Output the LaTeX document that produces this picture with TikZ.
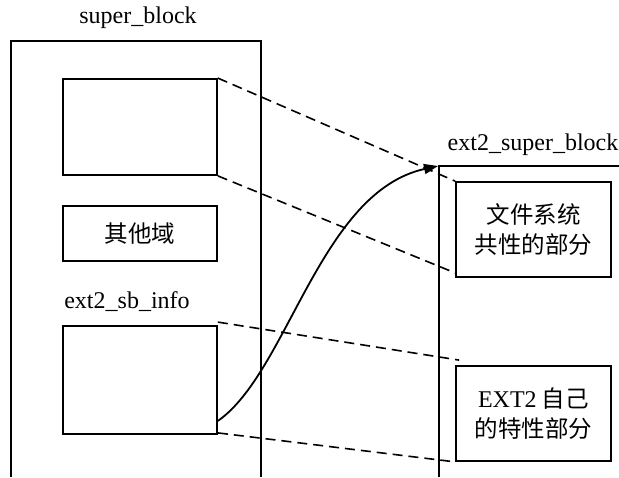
\documentclass[tikz,border=0pt]{standalone}
\usepackage{fontspec}
\setmainfont{Liberation Serif}
\newfontfamily\cjk{Noto Sans CJK SC}
\usetikzlibrary{arrows.meta,calc}
\begin{document}
\begin{tikzpicture}[x=1pt,y=-1pt,
  line width=1.8pt,
  lbl/.style={font=\fontsize{24}{28}\selectfont, inner sep=0pt},
  box/.style={draw, inner sep=0pt, font=\fontsize{23.5}{30}\selectfont\cjk, align=center},
  dsh/.style={dashed, dash pattern=on 10pt off 6pt, line width=1.6pt}]
\useasboundingbox (0,0) rectangle (619,477);
% outer containers
\draw (11,477) -- (11,41) -- (261,41) -- (261,477);
\draw (619,166) -- (439,166) -- (439,477);
% labels
\node[lbl] (lsb) at (138,18) {super\_block};
\node[lbl] (les) at (533,145) {ext2\_super\_block};
\node[lbl] (lei) at (127,302) {ext2\_sb\_info};
% boxes
\node[box, minimum width=154pt, minimum height=96pt] (b1) at (140,127) {};
\node[box, minimum width=154pt, minimum height=55pt] (b2) at (140,233.5) {其他域};
\node[box, minimum width=154pt, minimum height=108pt] (b3) at (140,380) {};
\node[box, minimum width=155pt, minimum height=95pt] (fs) at (533.5,229.5) {文件系统\\共性的部分};
\node[box, minimum width=155pt, minimum height=95pt] (ex) at (533.5,413.5) {{\fontsize{24}{30}\selectfont\rmfamily EXT2} 自己\\的特性部分};
% dashed mappings
\coordinate (fsl) at ($(fs.south west)+(0,-5)$);
\coordinate (exl) at ($(ex.north west)+(4,-5)$);
\draw[dsh] (b1.north east) -- (fs.north west);
\draw[dsh] (b1.south east) -- (fsl);
\draw[dsh] ($(b3.north east)+(0,-3)$) -- (exl);
\draw[dsh] ($(b3.south east)+(0,-2)$) -- (ex.south west);
% pointer
\coordinate (bs) at ($(b3.south east)+(0,-14)$);
\coordinate (tip) at (438,166);
\draw[-{Triangle[length=14pt,width=10pt]}] (bs) .. controls (288,372) and (320,192) .. (tip);
\end{tikzpicture}
\end{document}
